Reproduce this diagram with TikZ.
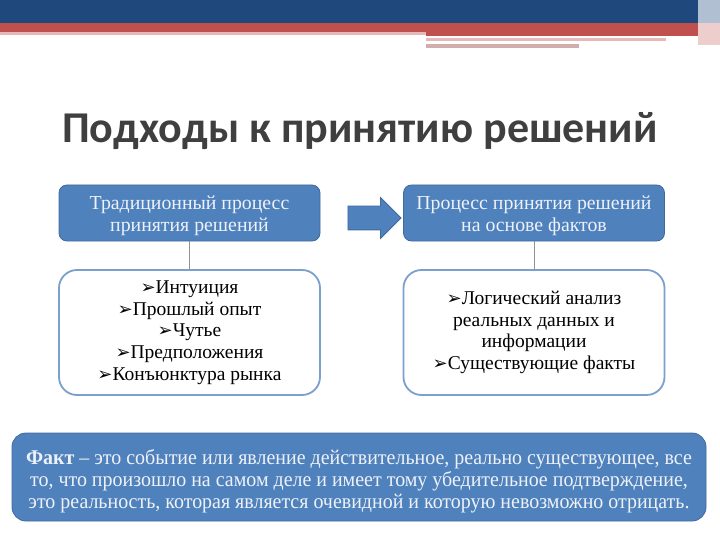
\documentclass[tikz,border=0pt]{standalone}
\usepackage{fontspec}
\setmainfont{Liberation Serif}
\newfontfamily\titlefont{Carlito}
\newfontfamily\bulletfont{DejaVu Sans}
\newfontfamily\narrowfont[FakeStretch=0.95]{Liberation Serif}
\usepackage{tikz}
\usetikzlibrary{shapes.arrows}
\definecolor{topblue}{HTML}{1F497D}
\definecolor{topred}{HTML}{C0504D}
\definecolor{toppink}{HTML}{E6B9B8}
\definecolor{boxblue}{HTML}{4F81BD}
\definecolor{boxedge}{HTML}{3F6A9E}
\definecolor{paletext}{HTML}{EEF2F8}
\definecolor{titlegray}{HTML}{3F3F3F}
\newcommand{\bul}{{\bulletfont\fontsize{18}{18}\selectfont ➢}}
\newcommand{\lift}[1]{\rule{0pt}{#1}}

\begin{document}
\begin{tikzpicture}[x=1pt,y=1pt]
\tikzstyle{every node}+=[inner sep=0pt]
\tikzstyle{headbox}=[rectangle, rounded corners=8pt, fill=boxblue, draw=boxedge, line width=0.8pt, minimum width=261pt, minimum height=56pt, text=paletext, align=center, font=\fontsize{19.8}{22}\selectfont]
\tikzstyle{listbox}=[rectangle, rounded corners=18pt, fill=white, draw=boxblue!75, line width=1.8pt, minimum width=261pt, minimum height=125pt, align=center, font=\fontsize{19.5}{21.7}\selectfont]
\tikzstyle{factbox}=[rectangle, rounded corners=14pt, fill=boxblue, draw=boxedge, line width=0.8pt, minimum width=694pt, minimum height=88pt, text=paletext, align=center, font=\narrowfont\fontsize{21}{22}\selectfont]
\tikzstyle{link}=[draw=gray!85, line width=0.8pt]
\useasboundingbox (0,0) rectangle (720,-540);
\fill [white] (0,0) rectangle (720,-540);
\fill [topblue] (0,0) rectangle (698,-23);
\fill [topred] (0,-23) rectangle (698,-32);
\fill [topred] (426,-32) rectangle (698,-36);
\fill [toppink] (0,-32) rectangle (426,-35);
\fill [toppink] (426,-38) rectangle (666,-41);
\fill [toppink!80!gray] (426,-44) rectangle (579,-48);
\fill [topblue!35] (698,0) rectangle (720,-23);
\fill [toppink!70] (698,-23) rectangle (720,-45);
\node [text=titlegray, font=\titlefont\bfseries\fontsize{44}{44}\selectfont] (title) at (360,-131) {Подходы к принятию решений};
\node [headbox] (trad) at (189.5,-213) {\lift{20pt}Традиционный процесс\\принятия решений};
\node [headbox] (fact) at (534,-213) {\lift{20pt}Процесс принятия решений\\на основе фактов};
\node [single arrow, fill=boxblue, draw=boxedge, line width=0.8pt, inner sep=11.5pt, minimum width=40pt, minimum height=53pt, single arrow head extend=8.5pt] (step) at (368.5,-218) {};
\node [listbox] (tradlist) at (189.5,-332.5) {\bul Интуиция\\\bul Прошлый опыт\\\bul Чутье\\\bul Предположения\\\bul Конъюнктура рынка};
\node [listbox] (factlist) at (534,-332.5) {\bul Логический анализ\\реальных данных и\\информации\\\bul Существующие факты};
\draw [link] (trad.south) -- (tradlist.north);
\draw [link] (fact.south) -- (factlist.north);
\node [factbox] (def) at (359,-477) {\lift{23pt}\textbf{Факт} – это событие или явление действительное, реально существующее, все\\то, что произошло на самом деле и имеет тому убедительное подтверждение,\\это реальность, которая является очевидной и которую невозможно отрицать.};
\end{tikzpicture}
\end{document}
